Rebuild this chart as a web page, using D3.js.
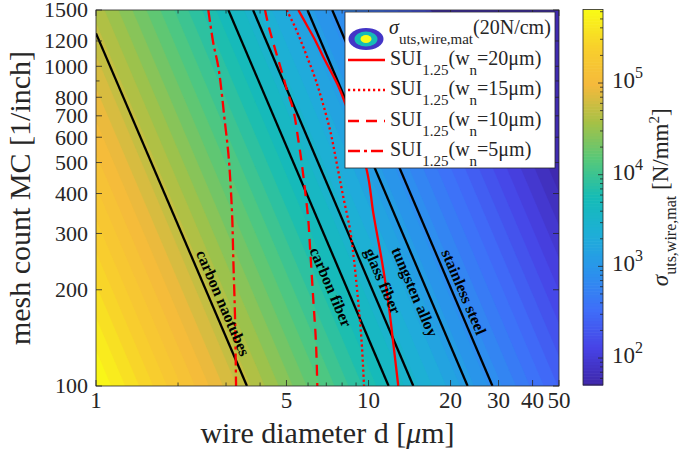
<!DOCTYPE html>
<html><head><meta charset="utf-8">
<script src="https://cdn.jsdelivr.net/npm/d3@7/dist/d3.min.js"></script>
<style>
html,body{margin:0;padding:0;background:#fff;}
svg{display:block;}
text{font-family:"Liberation Serif","Times New Roman",Times,serif;fill:#262626;}
</style></head>
<body>
<svg id="chart" width="685" height="458"></svg>
<script>
// ===================== DATA =====================
const xTickValues = [1, 5, 10, 20, 30, 40, 50];
const xMinorTickValues = [2, 3, 4, 6, 7, 8, 9];
const yTickValues = [100, 200, 300, 400, 500, 600, 700, 800, 1000, 1200, 1500];
const yMinorTickValues = [900];
const colorbarTickExponents = [2, 3, 4, 5];

const tensionNperCm = 20;          // sigma_uts,wire,mat(20N/cm)
const cmPerInch = 2.54;
const colorRange = [50.8, 6.34e5]; // N/mm^2
const contourLevelCount = 40;

const materialNames = ["carbon naotubes", "carbon fiber", "glass fiber", "tungsten alloy", "stainless steel"];
const materialLineTop = [[1, 1268], [3.06, 1500], [3.77, 1500], [5.97, 1500], [7.36, 1500]];
const materialLineBottom = [[3.58, 100], [11.85, 100], [14.6, 100], [23.1, 100], [28.5, 100]];
const materialLabelAt = [[2.93, 182], [7.29, 204], [11.30, 213], [14.81, 197], [22.41, 197]];

// SUI_1.25 curves, [d (um), MC (1/inch)]
const sui20 = [[5.526,1500],[5.932,1347],[6.365,1209],[6.825,1069],[7.329,953],[7.861,843],[9.849,474],[10.41,348],[11.18,248],[11.79,186],[12.41,129.6],[12.86,100]];
const sui15 = [[5.010,1500],[5.375,1327],[5.687,1183],[6.013,1046],[6.310,939],[6.610,831],[7.224,632],[7.642,498],[8.081,390],[8.554,308],[8.846,248],[9.152,186],[9.426,139.3],[9.627,100]];
const sui10 = [[4.171,1500],[4.289,1347],[4.473,1183],[4.667,1046],[4.869,926],[5.044,831],[5.297,730],[5.526,588],[5.687,498],[5.848,410],[6.013,330],[6.100,272],[6.272,186],[6.417,136],[6.488,100]];
const sui5 = [[2.583,1500],[2.694,1183],[2.811,995],[2.893,825],[2.957,694],[3.059,535],[3.121,419],[3.164,330],[3.191,248],[3.237,164],[3.265,100]];
const suiWidthLabels = ["20", "15", "10", "5"];

const parulaStops = [0, 0.1, 0.2, 0.3, 0.4, 0.5, 0.6, 0.7, 0.8, 0.9, 1];
const parulaColors = ["#3e26a8", "#4743e6", "#3f6ef9", "#2b92ed", "#1eaed8", "#15bcb6", "#55c87a", "#a6c146", "#f5b93c", "#f8d02c", "#f9fb15"];

// ===================== CHART =====================
const plot = {left: 96, right: 559, top: 10, bottom: 386};
const x = d3.scaleLog().domain([1, 50]).range([plot.left, plot.right]);
const y = d3.scaleLog().domain([100, 1500]).range([plot.bottom, plot.top]);
const lmin = Math.log10(colorRange[0]), lmax = Math.log10(colorRange[1]);
const colorOf = d3.scaleLinear()
  .domain(parulaStops.map(s => lmin + s * (lmax - lmin)))
  .range(parulaColors).interpolate(d3.interpolateRgb).clamp(true);

const svg = d3.select("#chart");
const defs = svg.append("defs");
defs.append("clipPath").attr("id", "plotClip").append("rect")
  .attr("x", plot.left).attr("y", plot.top)
  .attr("width", plot.right - plot.left).attr("height", plot.bottom - plot.top);

function sigmaAt(d, mc) {
  const forcePerWire = tensionNperCm * cmPerInch / mc;      // N
  const area = Math.PI * Math.pow(d / 1000, 2) / 4;         // mm^2
  return forcePerWire / area;
}

// ---- filled contour field ----
const nx = 240, ny = 200;
const lx0 = Math.log10(x.domain()[0]), lx1 = Math.log10(x.domain()[1]);
const ly0 = Math.log10(y.domain()[1]), ly1 = Math.log10(y.domain()[0]);
const values = new Float64Array(nx * ny);
for (let j = 0; j < ny; j++) {
  const mc = Math.pow(10, ly0 + (ly1 - ly0) * j / (ny - 1));
  for (let i = 0; i < nx; i++) {
    const d = Math.pow(10, lx0 + (lx1 - lx0) * i / (nx - 1));
    let s = sigmaAt(d, mc);
    if (d >= cmPerInch * 1e4 / mc) s = colorRange[0];
    values[j * nx + i] = Math.max(lmin, Math.log10(s));
  }
}
const step = (lmax - lmin) / contourLevelCount;
const thresholds = d3.range(contourLevelCount).map(k => lmin + k * step);
const bands = d3.contours().size([nx, ny]).thresholds(thresholds)(values);
const gridToPx = d3.geoTransform({
  point(gx, gy) {
    const ld = lx0 + (lx1 - lx0) * (gx - 0.5) / (nx - 1);
    const lm = ly0 + (ly1 - ly0) * (gy - 0.5) / (ny - 1);
    this.stream.point(x(Math.pow(10, ld)), y(Math.pow(10, lm)));
  }
});
const gField = svg.append("g").attr("clip-path", "url(#plotClip)");
gField.selectAll("path").data(bands).join("path")
  .attr("d", d3.geoPath(gridToPx))
  .attr("fill", d => colorOf(d.value + step / 2))
  .attr("stroke", d => colorOf(d.value + step / 2)).attr("stroke-width", 0.3);

// ---- material lines ----
const gLines = svg.append("g").attr("clip-path", "url(#plotClip)");
materialNames.forEach((name, i) => {
  const p1 = materialLineTop[i], p2 = materialLineBottom[i];
  gLines.append("line")
    .attr("x1", x(p1[0])).attr("y1", y(p1[1]))
    .attr("x2", x(p2[0])).attr("y2", y(p2[1]))
    .attr("stroke", "#000").attr("stroke-width", 2.3);
});

// ---- SUI curves ----
const suiSeries = [
  {pts: sui20, dash: null},
  {pts: sui15, dash: "2.2,2.8"},
  {pts: sui10, dash: "11,7"},
  {pts: sui5, dash: "12,4,3,4"}
];
const lineGen = d3.line().x(p => x(p[0])).y(p => y(p[1])).curve(d3.curveCatmullRom.alpha(0.5));
suiSeries.forEach(s => {
  gLines.append("path").attr("d", lineGen(s.pts))
    .attr("fill", "none").attr("stroke", "#ff0000").attr("stroke-width", 2.3)
    .attr("stroke-dasharray", s.dash);
});

// ---- material labels ----
materialNames.forEach((name, i) => {
  const p1 = materialLineTop[i], p2 = materialLineBottom[i];
  const ang = Math.atan2(y(p2[1]) - y(p1[1]), x(p2[0]) - x(p1[0])) * 180 / Math.PI;
  const lx = x(materialLabelAt[i][0]), ly = y(materialLabelAt[i][1]);
  svg.append("text").attr("transform", `translate(${lx},${ly}) rotate(${ang})`)
    .attr("text-anchor", "middle").attr("dy", "0.35em")
    .attr("font-size", 16).attr("font-weight", "bold")
    .style("fill", "#000").text(name);
});

// ---- axes box & ticks ----
const axisColor = "#262626";
svg.append("rect").attr("x", plot.left).attr("y", plot.top)
  .attr("width", plot.right - plot.left).attr("height", plot.bottom - plot.top)
  .attr("fill", "none").attr("stroke", axisColor).attr("stroke-width", 0.8);
const gTicks = svg.append("g").attr("stroke", axisColor).attr("stroke-width", 0.8);
function xTick(v, len) {
  gTicks.append("line").attr("x1", x(v)).attr("x2", x(v)).attr("y1", plot.bottom).attr("y2", plot.bottom - len);
  gTicks.append("line").attr("x1", x(v)).attr("x2", x(v)).attr("y1", plot.top).attr("y2", plot.top + len);
}
function yTick(v, len) {
  gTicks.append("line").attr("y1", y(v)).attr("y2", y(v)).attr("x1", plot.left).attr("x2", plot.left + len);
  gTicks.append("line").attr("y1", y(v)).attr("y2", y(v)).attr("x1", plot.right).attr("x2", plot.right - len);
}
xTickValues.forEach(v => xTick(v, 6));
xMinorTickValues.forEach(v => xTick(v, 3.5));
yTickValues.forEach(v => yTick(v, 6));
yMinorTickValues.forEach(v => yTick(v, 3.5));

svg.append("g").selectAll("text").data(xTickValues).join("text")
  .attr("x", d => x(d)).attr("y", 408).attr("text-anchor", "middle")
  .attr("font-size", 23).text(d => d);
svg.append("g").selectAll("text").data(yTickValues).join("text")
  .attr("x", plot.left - 8).attr("y", d => y(d)).attr("dy", "0.34em").attr("text-anchor", "end")
  .attr("font-size", 22).text(d => d);

const xLabel = svg.append("text").attr("x", (plot.left + plot.right) / 2).attr("y", 443)
  .attr("text-anchor", "middle").attr("font-size", 30);
xLabel.append("tspan").text("wire diameter d [");
xLabel.append("tspan").attr("font-style", "italic").text("\u03BC");
xLabel.append("tspan").text("m]");
svg.append("text").attr("transform", `translate(29.5,${(plot.top + plot.bottom) / 2}) rotate(-90)`)
  .attr("text-anchor", "middle").attr("font-size", 30).text("mesh count MC [1/inch]");

// ---- colorbar ----
const cb = {left: 583, right: 603, top: 9.5, bottom: 385};
const yc = d3.scaleLog().domain(colorRange).range([cb.bottom, cb.top]);
const cbSteps = d3.range(128);
const gCb = svg.append("g");
gCb.selectAll("rect").data(cbSteps).join("rect")
  .attr("x", cb.left).attr("width", cb.right - cb.left)
  .attr("y", k => yc(Math.pow(10, lmin + (k + 1) * (lmax - lmin) / 128)))
  .attr("height", (cb.bottom - cb.top) / 128 + 0.6)
  .attr("fill", k => colorOf(lmin + (k + 0.5) * (lmax - lmin) / 128));
gCb.append("rect").attr("x", cb.left).attr("y", cb.top)
  .attr("width", cb.right - cb.left).attr("height", cb.bottom - cb.top)
  .attr("fill", "none").attr("stroke", axisColor).attr("stroke-width", 0.8);
const cbMinor = [];
for (let e = 1; e <= 5; e++) for (let m = 2; m <= 9; m++) {
  const v = m * Math.pow(10, e);
  if (v > colorRange[0] && v < colorRange[1]) cbMinor.push(v);
}
gCb.selectAll("line.minor").data(cbMinor).join("line").attr("class", "minor")
  .attr("x1", cb.right).attr("x2", cb.right - 3).attr("y1", d => yc(d)).attr("y2", d => yc(d))
  .attr("stroke", axisColor).attr("stroke-width", 0.8);
gCb.selectAll("line.major").data(colorbarTickExponents).join("line").attr("class", "major")
  .attr("x1", cb.right).attr("x2", cb.right - 5).attr("y1", e => yc(Math.pow(10, e))).attr("y2", e => yc(Math.pow(10, e)))
  .attr("stroke", axisColor).attr("stroke-width", 0.8);
const cbLabels = gCb.selectAll("text").data(colorbarTickExponents).join("text")
  .attr("x", 612).attr("y", e => yc(Math.pow(10, e)) + 5).attr("font-size", 23);
cbLabels.append("tspan").text("10");
cbLabels.append("tspan").attr("dy", -10).attr("font-size", 16).text(e => e);

const cbTitle = svg.append("text")
  .attr("transform", `translate(668,${(cb.top + cb.bottom) / 2}) rotate(-90)`)
  .attr("text-anchor", "middle").attr("font-size", 23);
cbTitle.append("tspan").attr("font-style", "italic").text("\u03C3");
cbTitle.append("tspan").attr("dy", 8).attr("font-size", 16).text("uts,wire,mat");
cbTitle.append("tspan").attr("dy", -8).text(" [N/mm");
cbTitle.append("tspan").attr("dy", -9).attr("font-size", 15).text("2");
cbTitle.append("tspan").attr("dy", 9).text("]");

// ---- legend ----
const lg = {x: 345, y: 12, w: 210, h: 156};
const gLeg = svg.append("g");
gLeg.append("rect").attr("x", lg.x).attr("y", lg.y).attr("width", lg.w).attr("height", lg.h)
  .attr("fill", "#fff").attr("stroke", axisColor).attr("stroke-width", 0.8);
// contour icon
const iconRings = [[17.5, 11, colorOf(lmin + 0.05 * (lmax - lmin))], [11.5, 7.5, colorOf(lmin + 0.5 * (lmax - lmin))], [5.5, 4, colorOf(lmax)]];
iconRings.forEach(r => gLeg.append("ellipse").attr("cx", 366).attr("cy", 39).attr("rx", r[0]).attr("ry", r[1]).attr("fill", r[2]));
const t0 = gLeg.append("text").attr("x", 389).attr("y", 34).attr("font-size", 20);
t0.append("tspan").attr("font-style", "italic").text("\u03C3");
t0.append("tspan").attr("dy", 10).attr("font-size", 15).text("uts,wire,mat");
t0.append("tspan").attr("dy", -10).text("(20N/cm)");

const legRowY = [60, 90, 121, 151];
suiSeries.forEach((s, i) => {
  gLeg.append("line").attr("x1", 348).attr("x2", 385).attr("y1", legRowY[i]).attr("y2", legRowY[i])
    .attr("stroke", "#ff0000").attr("stroke-width", 2.3).attr("stroke-dasharray", s.dash);
  const t = gLeg.append("text").attr("x", 390).attr("y", legRowY[i] + 5).attr("font-size", 20);
  t.append("tspan").text("SUI");
  t.append("tspan").attr("dy", 10).attr("font-size", 15).text("1.25");
  t.append("tspan").attr("dy", -10).text("(w");
  t.append("tspan").attr("dy", 10).attr("font-size", 15).text("n");
  t.append("tspan").attr("dy", -10).text("=" + suiWidthLabels[i] + "\u03BCm)");
});
</script>
</body></html>
